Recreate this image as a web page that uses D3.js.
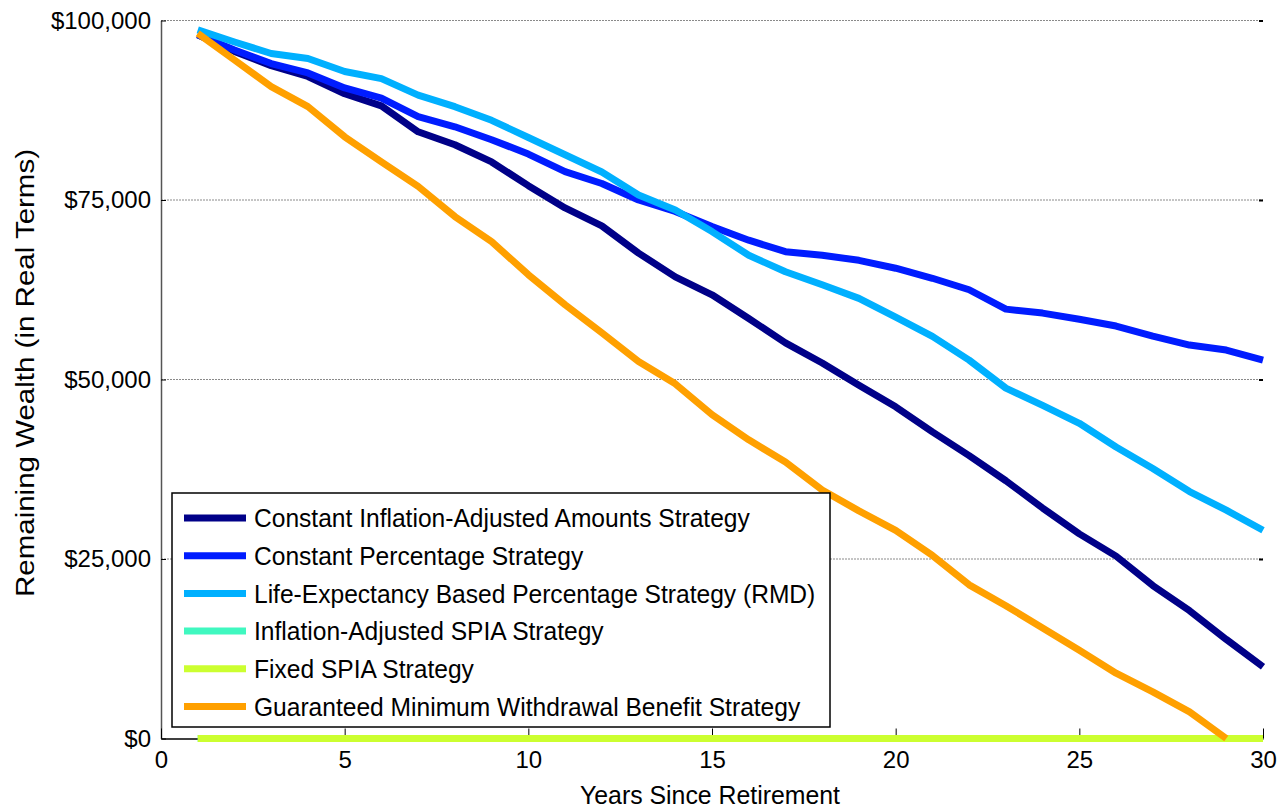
<!DOCTYPE html>
<html>
<head>
<meta charset="utf-8">
<script src="https://cdn.jsdelivr.net/npm/d3@7"></script>
<style>
  body { margin: 0; background: #fff; }
  svg text { font-family: "Liberation Sans", Arial, sans-serif; fill: #000; }
</style>
</head>
<body>
<div id="chart"></div>
<script>
var svgWidth = 1281;
var svgHeight = 811;

// data
var years = d3.range(1, 31);
var seriesNames = [
  "Constant Inflation-Adjusted Amounts Strategy",
  "Constant Percentage Strategy",
  "Life-Expectancy Based Percentage Strategy (RMD)",
  "Inflation-Adjusted SPIA Strategy",
  "Fixed SPIA Strategy",
  "Guaranteed Minimum Withdrawal Benefit Strategy"
];
var seriesColors = ["#000088", "#001cff", "#00b0ff", "#40f8c0", "#ccff30", "#ffa000"];

var constantInflation = [98000, 95700, 93700, 92200, 89800, 88100, 84500, 82700, 80300, 77000,
  73900, 71400, 67600, 64300, 61800, 58500, 55100, 52300, 49200, 46200,
  42700, 39400, 35900, 32100, 28500, 25400, 21300, 17800, 13800, 10000];
var constantPercent = [98000, 95900, 94000, 92700, 90600, 89200, 86600, 85200, 83400, 81400,
  78950, 77300, 75000, 73400, 71300, 69400, 67800, 67300, 66600, 65500,
  64100, 62500, 59800, 59250, 58400, 57450, 56050, 54800, 54100, 52700];
var lifeExpectancy = [98700, 97000, 95400, 94700, 92900, 91900, 89600, 88000, 86100, 83700,
  81300, 78900, 75700, 73600, 70600, 67300, 65000, 63200, 61300, 58700,
  56000, 52700, 48800, 46400, 43900, 40600, 37600, 34400, 31800, 29000];
var inflationSpia = [0, 0, 0, 0, 0, 0, 0, 0, 0, 0, 0, 0, 0, 0, 0,
  0, 0, 0, 0, 0, 0, 0, 0, 0, 0, 0, 0, 0, 0, 0];
var fixedSpia = [0, 0, 0, 0, 0, 0, 0, 0, 0, 0, 0, 0, 0, 0, 0,
  0, 0, 0, 0, 0, 0, 0, 0, 0, 0, 0, 0, 0, 0, 0];
// GMWB runs out in year 29
var gmwb = [98200, 94500, 90800, 88000, 83800, 80300, 76900, 72700, 69200, 64600,
  60400, 56500, 52500, 49400, 45100, 41600, 38500, 34600, 31700, 29000,
  25500, 21400, 18500, 15400, 12300, 9100, 6500, 3700, 0];

var allSeries = [constantInflation, constantPercent, lifeExpectancy, inflationSpia, fixedSpia, gmwb];

var yTicks = [0, 25000, 50000, 75000, 100000];
var xTicks = [0, 5, 10, 15, 20, 25, 30];

var svg = d3.select("#chart")
  .append("svg")
  .attr("width", svgWidth)
  .attr("height", svgHeight);

// scales
var xScale = d3.scaleLinear()
  .domain([0, 30])
  .range([161, 1263]);
var yScale = d3.scaleLinear()
  .domain([0, 100000])
  .range([738.5, 20.5]);

// grid lines
svg.append("g")
  .selectAll("line")
  .data(yTicks.slice(1))
  .enter()
  .append("line")
  .attr("x1", xScale(0))
  .attr("x2", xScale(30))
  .attr("y1", function(d) { return yScale(d); })
  .attr("y2", function(d) { return yScale(d); })
  .attr("stroke", "#8a8a8a")
  .attr("stroke-width", 1)
  .attr("stroke-dasharray", "2,1");

// axes
var yAxis = d3.axisLeft(yScale)
  .tickValues(yTicks)
  .tickSizeInner(-5)
  .tickSizeOuter(0)
  .tickPadding(10)
  .tickFormat(function(d) { return "$" + d3.format(",")(d); });
var gy = svg.append("g")
  .attr("transform", "translate(" + xScale(0) + ",0)")
  .call(yAxis);
gy.select(".domain").attr("stroke", "#555").attr("stroke-width", 1.5);
gy.selectAll(".tick line").attr("stroke", "#000");
gy.selectAll("text").style("font-size", "24px");

var yAxisRight = d3.axisRight(yScale)
  .tickValues(yTicks)
  .tickSizeInner(-4)
  .tickSizeOuter(0)
  .tickFormat("");
var gyr = svg.append("g")
  .attr("transform", "translate(" + xScale(30) + ",0)")
  .call(yAxisRight);
gyr.select(".domain").remove();
gyr.selectAll(".tick line").attr("stroke", "#000").attr("stroke-width", 2);

var xAxis = d3.axisBottom(xScale)
  .tickValues(xTicks)
  .tickSizeInner(-10)
  .tickSizeOuter(0)
  .tickPadding(12);
var gx = svg.append("g")
  .attr("transform", "translate(0," + yScale(0) + ")")
  .call(xAxis);
gx.select(".domain").attr("stroke", "#000").attr("stroke-width", 1.5);
gx.selectAll(".tick line").attr("stroke", "#000");
gx.selectAll("text").style("font-size", "24px");

// axis titles (the original uses a narrow, tall rendering of Arial)
svg.append("text")
  .attr("x", 710)
  .attr("y", 804)
  .attr("text-anchor", "middle")
  .attr("textLength", 260)
  .attr("lengthAdjust", "spacingAndGlyphs")
  .style("font-size", "25px")
  .text("Years Since Retirement");
svg.append("text")
  .attr("transform", "translate(34,373) rotate(-90)")
  .attr("text-anchor", "middle")
  .attr("textLength", 448)
  .attr("lengthAdjust", "spacingAndGlyphs")
  .style("font-size", "25px")
  .text("Remaining Wealth (in Real Terms)");

// lines
var line = d3.line()
  .x(function(d, i) { return xScale(years[i]); })
  .y(function(d) { return yScale(d); });

svg.append("g")
  .selectAll("path")
  .data(allSeries)
  .enter()
  .append("path")
  .attr("d", function(d) { return line(d); })
  .attr("fill", "none")
  .attr("stroke", function(d, i) { return seriesColors[i]; })
  .attr("stroke-width", 7)
  .attr("stroke-linejoin", "round");

// legend
var legend = svg.append("g")
  .attr("transform", "translate(172,493)");
legend.append("rect")
  .attr("width", 658)
  .attr("height", 234)
  .attr("fill", "#fff")
  .attr("stroke", "#000")
  .attr("stroke-width", 1.5);

var rows = legend.selectAll(".row")
  .data(seriesNames)
  .enter()
  .append("g")
  .attr("class", "row")
  .attr("transform", function(d, i) {
    return "translate(0," + (25 + i * 37.7) + ")";
  });
rows.append("line")
  .attr("x1", 12)
  .attr("x2", 74)
  .attr("stroke", function(d, i) { return seriesColors[i]; })
  .attr("stroke-width", 7);
rows.append("text")
  .attr("x", 82)
  .attr("dy", "0.36em")
  .style("font-size", "26px")
  .text(function(d) { return d; })
  .each(function() {
    // squeeze the taller text back to the original's narrow width
    var w = this.getComputedTextLength();
    d3.select(this)
      .attr("textLength", w * 0.945)
      .attr("lengthAdjust", "spacingAndGlyphs");
  });
</script>
</body>
</html>
